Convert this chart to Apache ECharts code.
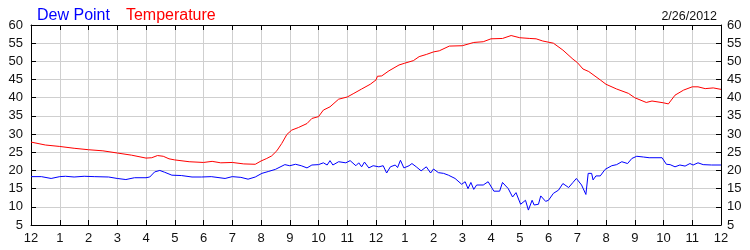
<!DOCTYPE html>
<html>
<head>
<meta charset="utf-8">
<script src="https://cdn.jsdelivr.net/npm/echarts@6/dist/echarts.min.js"></script>
<style>
html,body{margin:0;padding:0;background:#fff;}
#chart{width:750px;height:250px;}
</style>
</head>
<body>
<div id="chart"></div>
<script>
// Hour labels for the x axis (midnight to midnight)
var hourLabels = ['12','1','2','3','4','5','6','7','8','9','10','11','12','1','2','3','4','5','6','7','8','9','10','11','12'];
var dateLabel = '2/26/2012';

// Temperature readings: hours since midnight, degrees
var tempHours = [0,0.5,1,1.5,2,2.5,3,3.5,4,4.2,4.4,4.6,4.8,5,5.5,6,6.3,6.6,7,7.4,7.8,8,8.2,8.37,8.55,8.72,8.9,9.07,9.3,9.6,9.77,10,10.17,10.4,10.7,11,11.23,11.5,11.8,12,12.05,12.2,12.45,12.8,13,13.3,13.5,13.75,14,14.2,14.55,15,15.4,15.73,16,16.4,16.7,17,17.35,17.57,17.8,18.17,18.5,18.85,19,19.2,19.4,19.8,20,20.37,20.78,21,21.4,21.6,22,22.17,22.4,22.7,23,23.2,23.45,23.73,24];
var tempValues = [27.8,27.0,26.6,26.1,25.7,25.4,24.8,24.2,23.4,23.5,24.1,23.9,23.2,22.9,22.4,22.2,22.5,22.1,22.2,21.8,21.7,22.6,23.3,24.0,25.4,27.4,29.9,31.1,31.8,32.9,34.3,34.8,36.6,37.5,39.6,40.2,41.2,42.4,43.7,44.9,45.9,46.0,47.4,49.0,49.5,50.2,51.3,51.9,52.6,52.9,54.2,54.3,55.2,55.4,56.2,56.3,57.1,56.5,56.3,56.2,55.6,55.0,53.1,50.6,49.7,47.9,47.2,44.9,43.7,42.4,41.2,40.0,38.7,39.1,38.6,38.3,40.7,42.1,43.0,43.0,42.5,42.7,42.3];

// Dew point readings: hours since midnight, degrees
var dewHours = [0,0.36,0.7,1,1.2,1.5,1.85,2.2,2.7,3,3.3,3.6,4.0,4.13,4.3,4.48,4.65,4.9,5.23,5.6,5.93,6.27,6.75,7,7.3,7.55,7.8,8.03,8.25,8.5,8.83,9.0,9.2,9.4,9.6,9.77,10,10.17,10.3,10.4,10.5,10.7,10.95,11.1,11.3,11.4,11.5,11.6,11.75,11.9,12.1,12.25,12.37,12.5,12.67,12.75,12.85,12.97,13.15,13.25,13.4,13.57,13.75,13.9,14,14.17,14.35,14.52,14.75,14.98,15.1,15.2,15.3,15.4,15.5,15.73,15.9,16.1,16.3,16.4,16.6,16.75,16.87,17.03,17.2,17.3,17.43,17.5,17.65,17.73,17.9,18.0,18.17,18.35,18.5,18.7,18.85,18.97,19.15,19.3,19.38,19.5,19.55,19.65,19.8,19.97,20.2,20.37,20.55,20.75,20.9,21.07,21.3,21.5,21.95,22.1,22.23,22.4,22.57,22.75,22.92,23.03,23.2,23.38,23.67,24];
var dewValues = [18.3,18.3,17.8,18.3,18.4,18.2,18.4,18.3,18.2,17.8,17.5,18.0,18.0,18.2,19.6,20.0,19.5,18.7,18.6,18.2,18.2,18.3,17.8,18.3,18.1,17.6,18.2,19.2,19.7,20.3,21.6,21.3,21.7,21.3,20.7,21.5,21.6,22.1,21.5,22.7,21.5,22.4,22.1,22.7,21.3,22.1,21.0,22.3,20.7,21.3,21.0,21.3,19.3,21.0,21.5,20.8,22.8,20.7,21.3,21.9,21.0,19.9,21.0,19.3,20.4,19.4,19.2,18.7,17.8,16.2,16.9,15.0,16.7,14.8,16.0,16.0,16.9,14.3,14.3,16.7,15.0,12.7,13.9,10.7,11.8,9.1,11.8,10.5,10.7,13.0,11.5,11.8,13.7,14.6,16.4,15.3,16.7,17.8,16.0,13.4,19.2,19.2,17.4,18.5,18.5,20.3,21.3,21.6,22.4,21.9,23.3,23.9,23.7,23.5,23.5,21.7,21.6,21.0,21.5,21.2,21.9,21.5,22.1,21.6,21.5,21.5];

function pairs(xs, ys) {
  var out = [];
  for (var i = 0; i < xs.length; i++) out.push([xs[i], ys[i]]);
  return out;
}

var chart = echarts.init(document.getElementById('chart'), null, {renderer: 'canvas'});
var labelFont = {color: '#111', fontSize: 13, fontFamily: 'Liberation Sans, Arial, sans-serif'};
var gridLine = {show: true, lineStyle: {color: '#cfcfcf', width: 1}};
var axisLine = {show: true, onZero: false, lineStyle: {color: '#000', width: 1}};
var tick = {show: true, inside: true, length: 5, lineStyle: {color: '#000', width: 1}};

chart.setOption({
  animation: false,
  backgroundColor: '#fff',
  grid: {left: 31, right: 29, top: 25, bottom: 25, containLabel: false},
  legend: {
    left: 27, top: 3,
    itemWidth: 0, itemHeight: 0, itemGap: 11,
    icon: 'rect',
    selectedMode: false,
    textStyle: {fontSize: 16, fontFamily: 'Liberation Sans, Arial, sans-serif'},
    data: [
      {name: 'Dew Point', textStyle: {color: '#0000ff'}},
      {name: 'Temperature', textStyle: {color: '#ff0000'}}
    ]
  },
  title: {
    text: dateLabel,
    right: 28, top: 5,
    textStyle: {fontSize: 12.5, fontWeight: 'normal', color: '#111', fontFamily: 'Liberation Sans, Arial, sans-serif'}
  },
  xAxis: [
    {
      type: 'value', min: 0, max: 24, interval: 1, position: 'bottom',
      axisLine: axisLine, axisTick: tick, splitLine: gridLine,
      axisLabel: Object.assign({margin: 7, formatter: function (v) { return hourLabels[Math.round(v)]; }}, labelFont)
    },
    {
      type: 'value', min: 0, max: 24, interval: 1, position: 'top',
      axisLine: axisLine, axisTick: tick, splitLine: {show: false},
      axisLabel: {show: false}
    }
  ],
  yAxis: [
    {
      type: 'value', min: 5, max: 60, interval: 5, position: 'left',
      axisLine: axisLine, axisTick: tick, splitLine: gridLine,
      axisLabel: Object.assign({margin: 8}, labelFont)
    },
    {
      type: 'value', min: 5, max: 60, interval: 5, position: 'right',
      axisLine: axisLine, axisTick: tick, splitLine: {show: false},
      axisLabel: Object.assign({margin: 6}, labelFont)
    }
  ],
  series: [
    {
      name: 'Dew Point', type: 'line', xAxisIndex: 0, yAxisIndex: 0,
      data: pairs(dewHours, dewValues),
      showSymbol: false, symbol: 'none',
      lineStyle: {color: '#0000ff', width: 1}, itemStyle: {color: '#0000ff'}
    },
    {
      name: 'Temperature', type: 'line', xAxisIndex: 0, yAxisIndex: 0,
      data: pairs(tempHours, tempValues),
      showSymbol: false, symbol: 'none',
      lineStyle: {color: '#ff0000', width: 1}, itemStyle: {color: '#ff0000'}
    }
  ]
});
</script>
</body>
</html>
